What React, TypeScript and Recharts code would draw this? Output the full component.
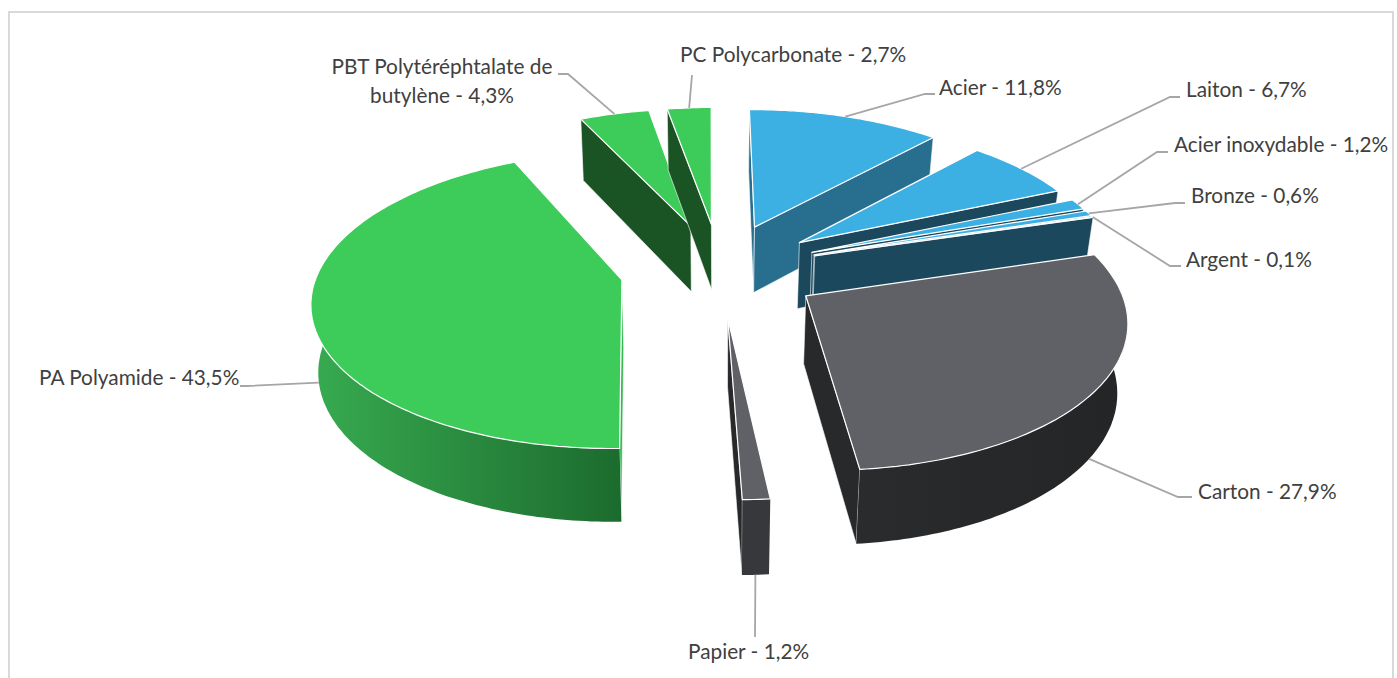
import { Pie, PieChart } from "recharts"

const NAMES = ["Acier", "Laiton", "Acier inoxydable", "Bronze", "Argent", "Carton", "Papier", "PA Polyamide", "PBT Polytéréphtalate de butylène", "PC Polycarbonate"]
const SHARES = [11.8, 6.7, 1.2, 0.6, 0.1, 27.9, 1.2, 43.5, 4.3, 2.7]

const TOP_COLORS = ["#3db0e3", "#3db0e3", "#3db0e3", "#3db0e3", "#3db0e3", "#606166", "#606166", "#3dcc5a", "#3dcc5a", "#3dcc5a"]
const FACE_COLORS = ["#286e8e", "#1b485c", "#1b485c", "#1b485c", "#1b485c", "#28292b", "#28292b", "#37b853", "#1a5425", "#1a5425"]
const WALL_LEFT = ["#286e8e", "#1b485c", "#1b485c", "#1b485c", "#1b485c", "#2a2b2d", "#37383b", "#37ab50", "#1a5425", "#1a5425"]
const WALL_RIGHT = ["#286e8e", "#1b485c", "#1b485c", "#1b485c", "#1b485c", "#242527", "#37383b", "#1c6b2e", "#1a5425", "#1a5425"]

// label text anchor and baseline, then the leader elbow points
const LABEL_X = [939, 1186, 1174, 1191, 1186, 1198, 688, 39, 442, 680]
const LABEL_Y = [95, 97, 152, 203, 267, 499, 659, 385, 74, 62]
const ELBOWS: number[][][] = [
  [[925, 94], [935, 94]],
  [[1170, 97], [1180, 97]],
  [[1157, 152], [1168, 152]],
  [[1175, 203], [1185, 203]],
  [[1170, 266], [1181, 266]],
  [[1178, 497], [1192, 497]],
  [[755, 637]],
  [[247, 386], [240, 386]],
  [[568, 74], [558, 74]],
  [[692, 75]],
]
const LEADER_DEPTH = [0, 0, 0, 0, 0, 1, 1, 1, 0, 0]

const CENTER_X = 720
const CENTER_Y = 269
const RADIUS = 306
const EXPLODE = 100
const SQUASH = 0.468
const PERSPECTIVE = 2300
const SHEAR = 0.05
const TILT = 0.02
const DEPTH = 67
const DEPTH_SHRINK = 0.026
const DEPTH_SHRINK_LEFT = 0.018

const chartData = NAMES.map((name, index) => ({ name, value: SHARES[index] }))
const rad = (deg: number) => (deg * Math.PI) / 180

function project(X: number, Y: number, z: number) {
  const s = 1 / (1 - Y / PERSPECTIVE)
  const zs = 1 - z * DEPTH_SHRINK
  const zx = 1 - z * (X < 0 ? DEPTH_SHRINK_LEFT : DEPTH_SHRINK)
  return {
    x: CENTER_X + (X + SHEAR * Y) * s * zx,
    y: CENTER_Y + (SQUASH * Y - TILT * X) * s * zs + z * DEPTH * s,
  }
}

function sliceGeometry(startAngle: number, endAngle: number, radius: number) {
  const mid = rad((startAngle + endAngle) / 2)
  const ax = Math.cos(mid) * EXPLODE
  const ay = -Math.sin(mid) * EXPLODE
  const rim = (deg: number, z: number) =>
    project(ax + Math.cos(rad(deg)) * radius, ay - Math.sin(rad(deg)) * radius, z)
  const apex = (z: number) => project(ax, ay, z)
  return { rim, apex }
}

const toPath = (pts: { x: number; y: number }[]) =>
  pts.map((p, i) => `${i ? "L" : "M"}${p.x.toFixed(1)} ${p.y.toFixed(1)}`).join(" ") + " Z"

function Slice3D(props: any) {
  const { startAngle, endAngle, outerRadius, index } = props
  const { rim, apex } = sliceGeometry(startAngle, endAngle, outerRadius)
  const steps = Math.max(2, Math.ceil(startAngle - endAngle))
  const angles = Array.from({ length: steps + 1 }, (_, i) => startAngle + ((endAngle - startAngle) * i) / steps)
  const topOutline = [apex(0), ...angles.map((a) => rim(a, 0))]

  // only the part of the rim that faces the viewer gets a wall
  const wallAngles = angles.filter((a) => Math.sin(rad(a)) < 0.06)
  const wall = wallAngles.length > 1
    ? [...wallAngles.map((a) => rim(a, 0)), ...[...wallAngles].reverse().map((a) => rim(a, 1))]
    : null

  const showStart = rim(startAngle, 0).x < apex(0).x
  const showEnd = rim(endAngle, 0).x > apex(0).x
  const gradientId = `wall-${index}`

  return (
    <g>
      <defs>
        <linearGradient id={gradientId} x1="0" y1="0" x2="1" y2="0">
          <stop offset="0%" stopColor={WALL_LEFT[index]} />
          <stop offset="100%" stopColor={WALL_RIGHT[index]} />
        </linearGradient>
      </defs>
      {showStart && (
        <path d={toPath([apex(0), rim(startAngle, 0), rim(startAngle, 1), apex(1)])} fill={FACE_COLORS[index]} stroke="#ffffff" strokeWidth={0.6} />
      )}
      {showEnd && (
        <path d={toPath([apex(0), rim(endAngle, 0), rim(endAngle, 1), apex(1)])} fill={FACE_COLORS[index]} stroke="#ffffff" strokeWidth={0.6} />
      )}
      {wall && <path d={toPath(wall)} fill={`url(#${gradientId})`} stroke="none" />}
      <path d={toPath(topOutline)} fill={TOP_COLORS[index]} stroke="#ffffff" strokeWidth={1.2} strokeLinejoin="round" />
    </g>
  )
}

function SliceLabel(props: any) {
  const { index, outerRadius, midAngle } = props
  const { rim } = sliceGeometry(midAngle, midAngle, outerRadius)
  const start = rim(midAngle, LEADER_DEPTH[index])
  const line = [start, ...ELBOWS[index].map(([x, y]) => ({ x, y }))]
  const points = line.map((p) => `${p.x},${p.y}`).join(" ")
  const share = `${String(SHARES[index]).replace(".", ",")}%`
  const name = NAMES[index]
  return (
    <g>
      <polyline points={points} fill="none" stroke="#a6a6a6" strokeWidth={1.8} />
      {index === 8 ? (
        <text x={LABEL_X[index]} y={LABEL_Y[index]} textAnchor="middle" fontSize={20.8} fontFamily="Lato" fill="#404040">
          <tspan x={LABEL_X[index]}>PBT Polytéréphtalate de</tspan>
          <tspan x={LABEL_X[index]} dy={29}>{`butylène - ${share}`}</tspan>
        </text>
      ) : (
        <text x={LABEL_X[index]} y={LABEL_Y[index]} fontSize={20.8} fontFamily="Lato" fill="#404040">
          {`${name} - ${share}`}
        </text>
      )}
    </g>
  )
}

export default function App() {
  return (
    <div style={{ position: "absolute", left: 0, top: 0, width: 1397, height: 678, overflow: "hidden", background: "#ffffff" }}>
      <div style={{ position: "absolute", left: 8, top: 11, width: 1386, height: 680, border: "2px solid #d9d9d9", boxSizing: "border-box" }} />
      <div style={{ position: "absolute", left: 0, top: 0 }}>
        <PieChart width={1397} height={678} margin={{ top: 0, right: 0, bottom: 0, left: 0 }}>
          <Pie
            data={chartData}
            dataKey="value"
            nameKey="name"
            cx={CENTER_X}
            cy={CENTER_Y}
            outerRadius={RADIUS}
            startAngle={87.4}
            endAngle={-272.6}
            shape={Slice3D}
            label={SliceLabel}
            labelLine={false}
            isAnimationActive={false}
          />
        </PieChart>
      </div>
    </div>
  )
}
